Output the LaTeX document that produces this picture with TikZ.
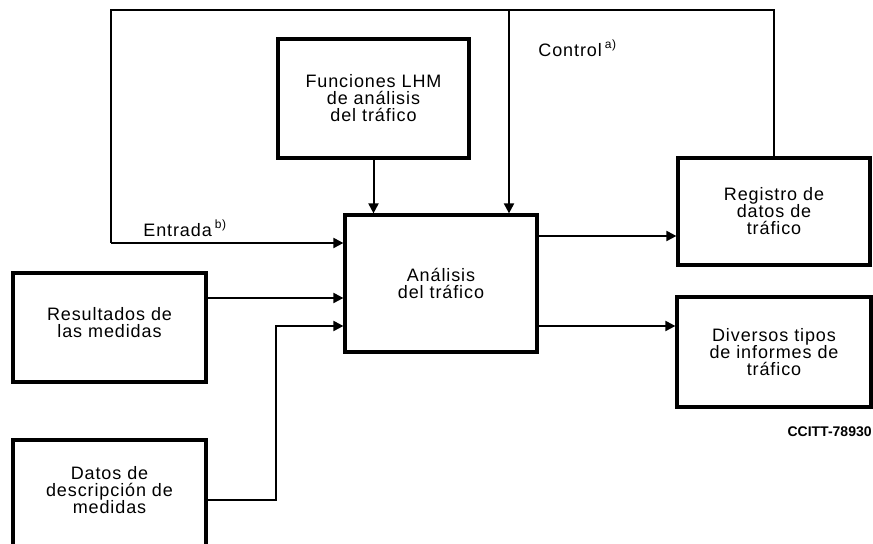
\documentclass[tikz,border=0pt]{standalone}
\usepackage{fontspec}
\setmainfont{Liberation Sans}[LetterSpace=5]
\usetikzlibrary{arrows.meta}

\begin{document}
\begin{tikzpicture}[x=0.5pt,y=-0.5pt,
    box/.style={draw, line width=1.6pt, align=center, inner sep=0pt,
        font=\fontsize{9}{8.5}\selectfont},
    conn/.style={line width=1pt},
    arr/.style={conn, -{Triangle[length=5pt,width=5pt]}},
    lbl/.style={inner sep=0pt, font=\fontsize{9}{8.5}\selectfont}]
    \useasboundingbox (0,0) rectangle (873,544);
    \clip (0,0) rectangle (873,544);

    % boxes
    \node[box, minimum width=95.5pt, minimum height=59.5pt] (funciones) at (373.5,98.5)
        {Funciones LHM\\de análisis\\del tráfico};
    \node[box, minimum width=96pt, minimum height=68.5pt] (analisis) at (441,283.5)
        {Análisis\\del tráfico};
    \node[box, minimum width=96pt, minimum height=53.5pt] (registro) at (774,211.5)
        {Registro de\\datos de\\tráfico};
    \node[box, minimum width=97pt, minimum height=55pt] (diversos) at (774,352)
        {Diversos tipos\\de informes de\\tráfico};
    \node[box, minimum width=96.5pt, minimum height=54.5pt] (resultados) at (109.5,327.5)
        {Resultados de\\las medidas\\[-3.5pt]};
    \node[box, minimum width=96.5pt, minimum height=60pt] (datos) at (109.5,500)
        {Datos de\\descripción de\\medidas\\[1.5pt]};

    % control / entrada loop
    \coordinate (ctl) at (509,10);
    \coordinate (ent) at (111,243);
    \draw[conn] (registro.north) |- (ent |- ctl) -- (ent);
    \draw[arr] (ctl) -- (ctl |- analisis.north);
    \draw[arr] (ent) -- (ent -| analisis.west);
    \draw[arr] (funciones.south) -- (funciones.south |- analisis.north);

    % inputs and outputs
    \coordinate (resin) at (345,298);
    \coordinate (datbend) at (276,326);
    \coordinate (regin) at (678,236);
    \coordinate (divin) at (677,326);
    \draw[arr] (resin -| resultados.east) -- (resin -| analisis.west);
    \draw[arr] (datos.east) -| (datbend) -- (datbend -| analisis.west);
    \draw[arr] (regin -| analisis.east) -- (regin -| registro.west);
    \draw[arr] (divin -| analisis.east) -- (divin -| diversos.west);

    % labels
    \node[lbl, anchor=west] (entrada) at (143,228) {Entrada\,\textsuperscript{b)}};
    \node[lbl, anchor=west] (control) at (538,48) {Control\,\textsuperscript{a)}};
    \node[inner sep=0pt, anchor=east, font=\fontsize{7}{8}\selectfont\bfseries\addfontfeature{LetterSpace=0}]
        (ccitt) at (872,432) {CCITT-78930};
\end{tikzpicture}
\end{document}
